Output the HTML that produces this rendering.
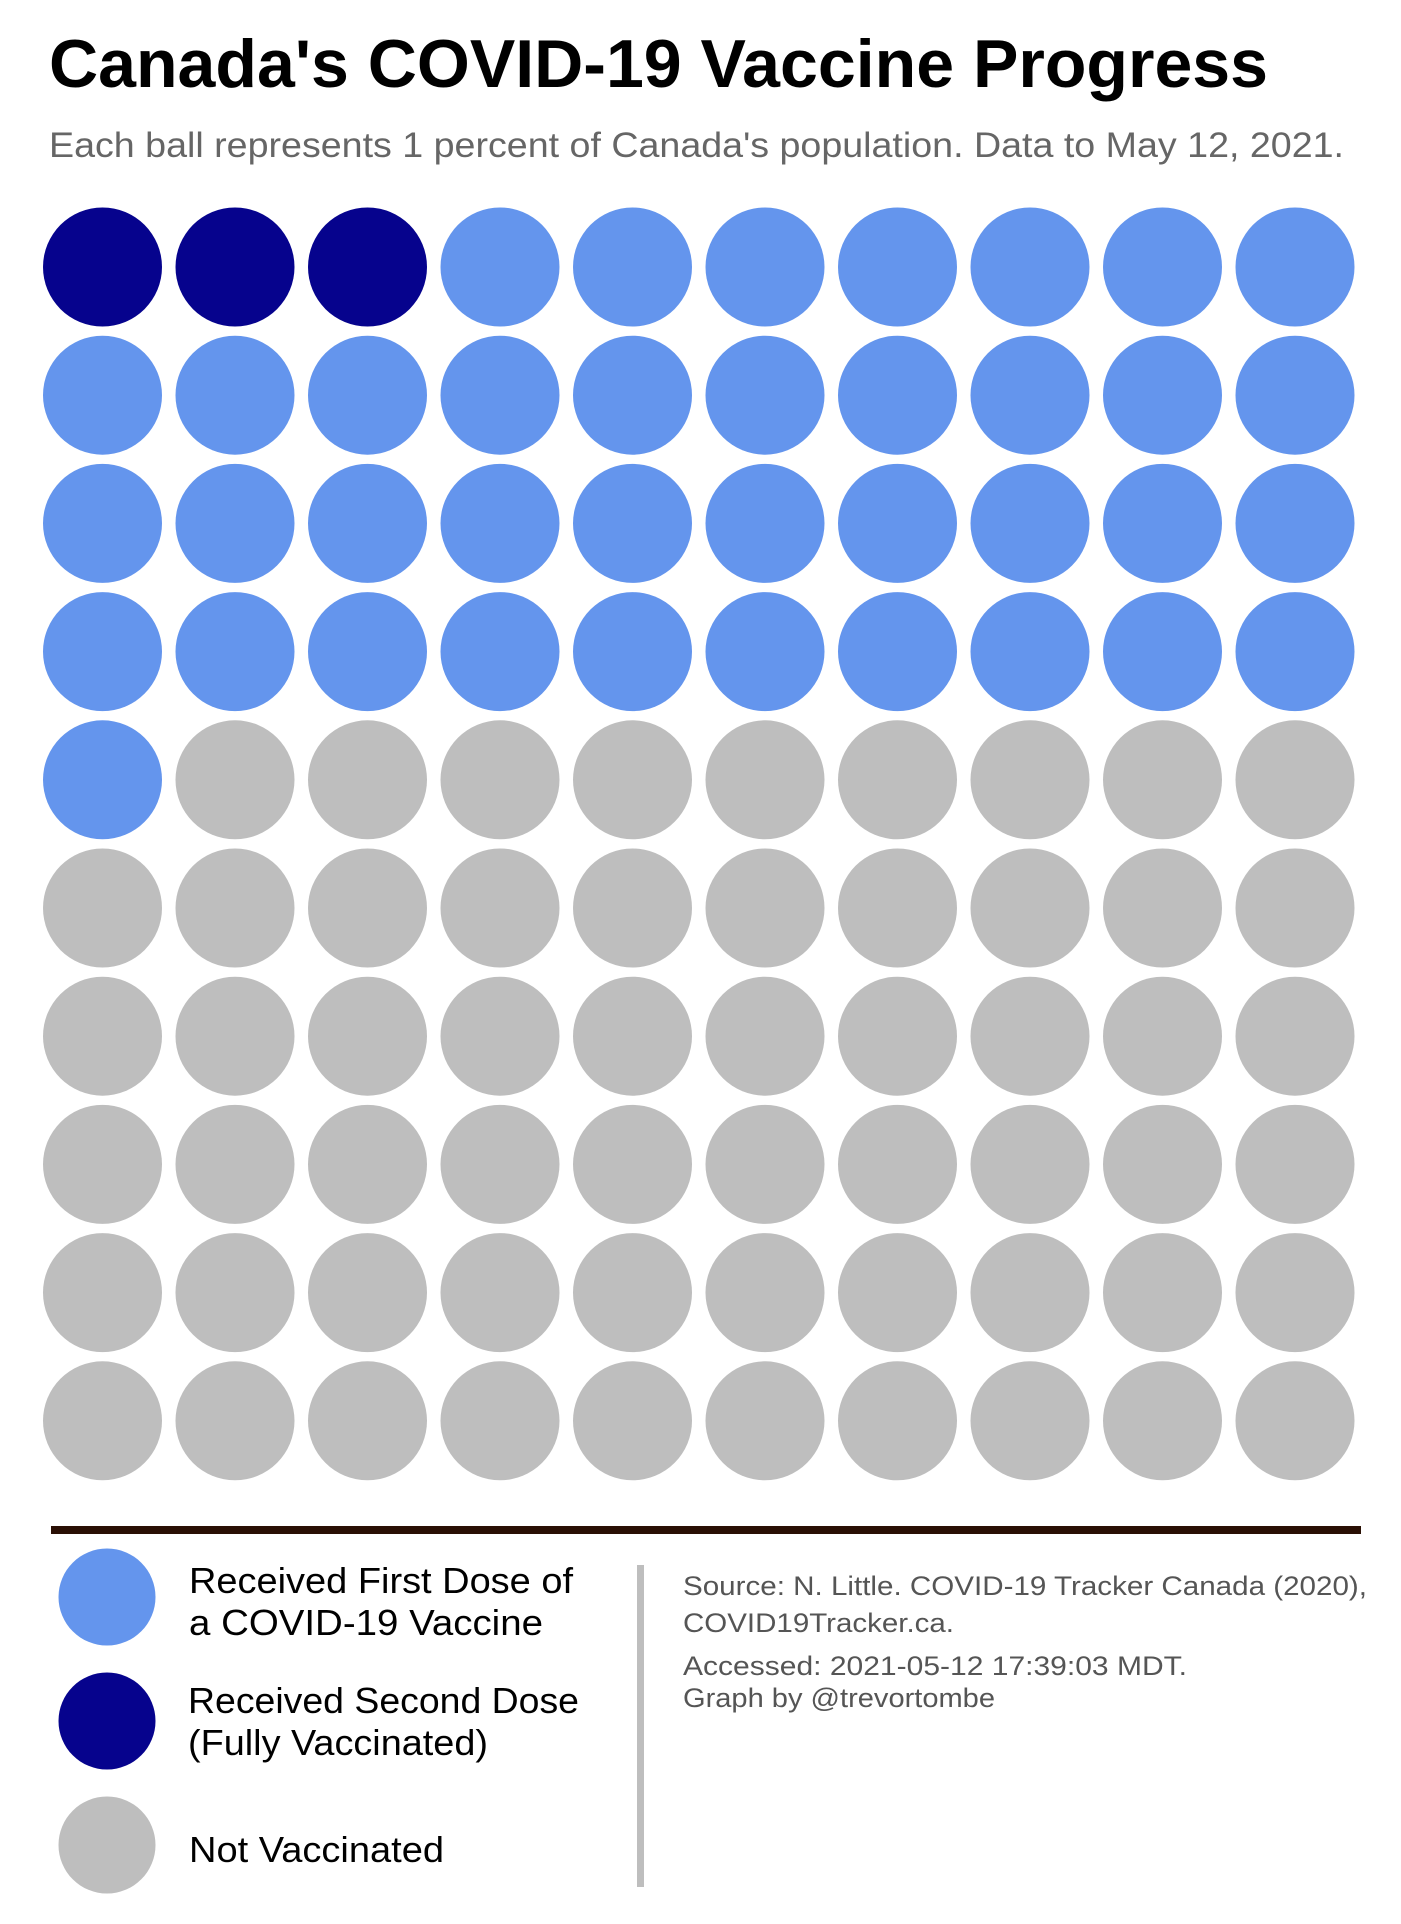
<!DOCTYPE html>
<html><head><meta charset="utf-8"><style>html,body{margin:0;padding:0;background:#fff}svg{display:block}</style></head>
<body>
<svg width="1401" height="1924" viewBox="0 0 1401 1924" xmlns="http://www.w3.org/2000/svg" font-family="Liberation Sans, Arial, sans-serif">
<rect width="1401" height="1924" fill="#fff"/>
<text x="49" y="87" font-size="68" font-weight="bold" fill="#000" textLength="1219" lengthAdjust="spacingAndGlyphs">Canada's COVID-19 Vaccine Progress</text>
<text x="49" y="157" font-size="35" fill="#666" textLength="1295" lengthAdjust="spacingAndGlyphs">Each ball represents 1 percent of Canada's population. Data to May 12, 2021.</text>
<defs>
<g id="row">
<circle cx="102.5" cy="0" r="59.5"/><circle cx="235" cy="0" r="59.5"/><circle cx="367.5" cy="0" r="59.5"/><circle cx="500" cy="0" r="59.5"/><circle cx="632.5" cy="0" r="59.5"/><circle cx="765" cy="0" r="59.5"/><circle cx="897.5" cy="0" r="59.5"/><circle cx="1030" cy="0" r="59.5"/><circle cx="1162.5" cy="0" r="59.5"/><circle cx="1295" cy="0" r="59.5"/>
</g>
</defs>
<g fill="#06038D">
<circle cx="102.5" cy="267" r="59.5"/><circle cx="235" cy="267" r="59.5"/><circle cx="367.5" cy="267" r="59.5"/>
</g>
<g fill="#6495ED">
<circle cx="500" cy="267" r="59.5"/><circle cx="632.5" cy="267" r="59.5"/><circle cx="765" cy="267" r="59.5"/><circle cx="897.5" cy="267" r="59.5"/><circle cx="1030" cy="267" r="59.5"/><circle cx="1162.5" cy="267" r="59.5"/><circle cx="1295" cy="267" r="59.5"/>
<use href="#row" y="395.2"/>
<use href="#row" y="523.4"/>
<use href="#row" y="651.6"/>
<circle cx="102.5" cy="779.8" r="59.5"/>
</g>
<g fill="#BEBEBE">
<circle cx="235" cy="779.8" r="59.5"/><circle cx="367.5" cy="779.8" r="59.5"/><circle cx="500" cy="779.8" r="59.5"/><circle cx="632.5" cy="779.8" r="59.5"/><circle cx="765" cy="779.8" r="59.5"/><circle cx="897.5" cy="779.8" r="59.5"/><circle cx="1030" cy="779.8" r="59.5"/><circle cx="1162.5" cy="779.8" r="59.5"/><circle cx="1295" cy="779.8" r="59.5"/>
<use href="#row" y="908"/>
<use href="#row" y="1036.2"/>
<use href="#row" y="1164.4"/>
<use href="#row" y="1292.6"/>
<use href="#row" y="1420.8"/>
</g>
<rect x="51" y="1526" width="1310" height="8" fill="#2A1005"/>
<circle cx="107" cy="1597" r="48.5" fill="#6495ED"/>
<circle cx="107" cy="1721" r="48.5" fill="#06038D"/>
<circle cx="107" cy="1845" r="48.5" fill="#BEBEBE"/>
<g font-size="36" fill="#000">
<text x="189" y="1593" textLength="384" lengthAdjust="spacingAndGlyphs">Received First Dose of</text>
<text x="189" y="1635" textLength="354" lengthAdjust="spacingAndGlyphs">a COVID-19 Vaccine</text>
<text x="188" y="1713" textLength="391" lengthAdjust="spacingAndGlyphs">Received Second Dose</text>
<text x="188" y="1755" textLength="300" lengthAdjust="spacingAndGlyphs">(Fully Vaccinated)</text>
<text x="189" y="1862" textLength="255" lengthAdjust="spacingAndGlyphs">Not Vaccinated</text>
</g>
<rect x="637" y="1565" width="7" height="322" fill="#BEBEBE"/>
<g font-size="27" fill="#555">
<text x="683" y="1595" textLength="684" lengthAdjust="spacingAndGlyphs">Source: N. Little. COVID-19 Tracker Canada (2020),</text>
<text x="683" y="1632" textLength="271" lengthAdjust="spacingAndGlyphs">COVID19Tracker.ca.</text>
<text x="683" y="1675" textLength="504" lengthAdjust="spacingAndGlyphs">Accessed: 2021-05-12 17:39:03 MDT.</text>
<text x="683" y="1707" textLength="312" lengthAdjust="spacingAndGlyphs">Graph by @trevortombe</text>
</g>
</svg>
</body></html>
